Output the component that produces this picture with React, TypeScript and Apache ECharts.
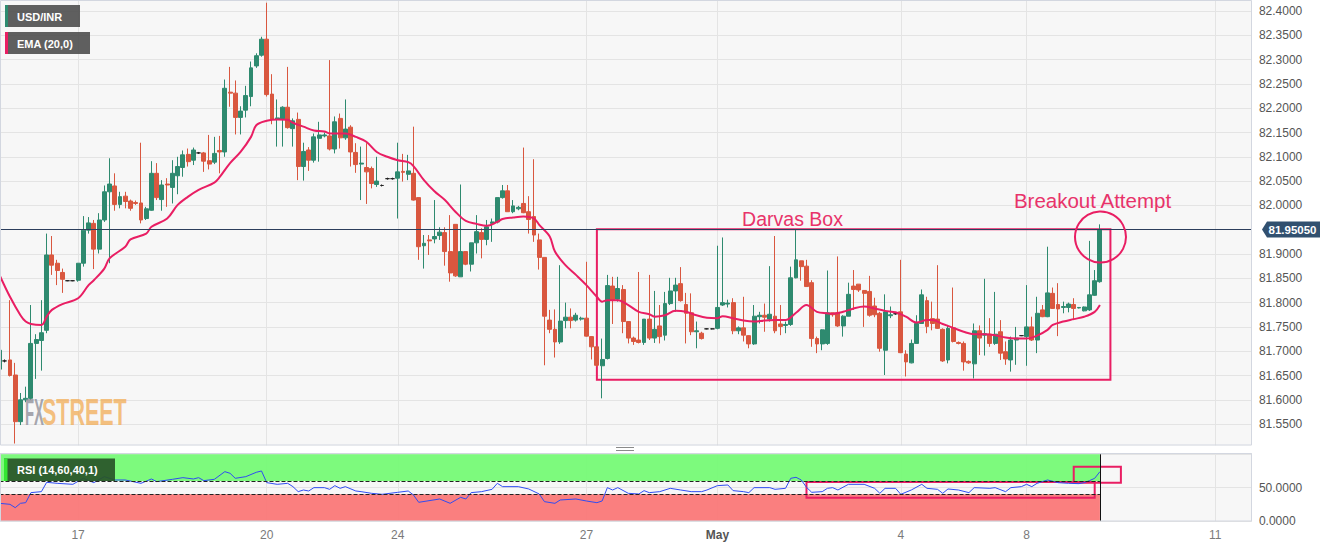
import React, { useEffect, useRef } from "react";
import * as echarts from "echarts";

// ---- data: [open, close, low, high] per 2-hour candle ----
const candlesA = [
  [81.663, 81.702, 81.650, 81.710], [81.680, 81.680, 81.677, 81.683], [81.682, 81.650, 81.648, 81.805],
  [81.651, 81.555, 81.510, 81.676], [81.555, 81.600, 81.548, 81.614], [81.600, 81.603, 81.595, 81.627],
  [81.603, 81.716, 81.600, 81.795], [81.716, 81.724, 81.643, 81.735], [81.722, 81.738, 81.660, 81.805],
  [81.743, 81.898, 81.737, 81.942], [81.898, 81.877, 81.857, 81.937], [81.881, 81.866, 81.836, 81.888],
  [81.862, 81.848, 81.820, 81.870], [81.845, 81.845, 81.844, 81.846], [81.845, 81.845, 81.844, 81.846],
  [81.846, 81.881, 81.843, 81.881], [81.881, 81.949, 81.874, 81.978], [81.949, 81.964, 81.942, 81.976],
  [81.963, 81.910, 81.869, 81.970], [81.910, 81.970, 81.901, 81.984], [81.970, 82.028, 81.966, 82.041],
  [82.028, 82.044, 81.881, 82.097], [82.040, 82.002, 81.989, 82.066], [82.002, 82.018, 81.994, 82.028],
  [82.019, 82.008, 81.994, 82.028], [82.009, 81.994, 81.989, 82.012], [82.006, 82.004, 82.001, 82.010],
  [82.005, 81.970, 81.963, 82.129], [81.973, 81.993, 81.970, 81.997], [81.990, 82.066, 81.989, 82.091],
  [82.066, 82.016, 82.011, 82.087], [82.012, 82.042, 81.989, 82.052], [82.044, 82.042, 81.997, 82.056],
  [82.037, 82.066, 82.004, 82.093], [82.061, 82.080, 82.023, 82.100], [82.078, 82.104, 82.059, 82.113],
  [82.105, 82.090, 82.080, 82.117], [82.093, 82.114, 82.083, 82.119], [82.108, 82.108, 82.106, 82.110],
  [82.108, 82.091, 82.069, 82.110], [82.092, 82.085, 82.074, 82.145], [82.089, 82.107, 82.085, 82.141],
];
const candlesB = [
  [82.113, 82.110, 82.066, 82.143], [82.110, 82.241, 82.100, 82.259], [82.233, 82.231, 82.203, 82.285],
  [82.231, 82.181, 82.146, 82.257], [82.181, 82.194, 82.146, 82.204], [82.196, 82.226, 82.181, 82.246],
  [82.224, 82.283, 82.204, 82.296], [82.287, 82.308, 82.283, 82.313], [82.309, 82.342, 82.306, 82.347],
  [82.342, 82.228, 82.224, 82.417], [82.229, 82.177, 82.167, 82.270], [82.177, 82.180, 82.121, 82.218],
  [82.178, 82.202, 82.121, 82.204], [82.202, 82.160, 82.158, 82.285], [82.158, 82.174, 82.121, 82.179],
  [82.177, 82.080, 82.052, 82.191], [82.080, 82.111, 82.051, 82.129], [82.114, 82.093, 82.071, 82.120],
  [82.093, 82.141, 82.088, 82.148], [82.138, 82.145, 82.090, 82.172], [82.143, 82.145, 82.140, 82.150],
  [82.143, 82.116, 82.113, 82.299], [82.116, 82.172, 82.107, 82.183], [82.179, 82.139, 82.117, 82.189],
  [82.139, 82.157, 82.135, 82.218], [82.161, 82.110, 82.080, 82.165], [82.109, 82.084, 82.067, 82.128],
  [82.085, 82.087, 82.011, 82.121], [82.078, 82.069, 82.003, 82.128], [82.076, 82.045, 82.035, 82.080],
  [82.043, 82.050, 82.038, 82.100], [82.041, 82.041, 82.039, 82.043], [82.055, 82.055, 82.053, 82.057],
  [82.055, 82.055, 82.053, 82.057], [82.056, 82.069, 81.973, 82.129], [82.070, 82.068, 82.049, 82.106],
  [82.064, 82.071, 82.052, 82.104], [82.066, 82.011, 82.010, 82.162], [82.016, 81.915, 81.888, 82.016],
  [81.917, 81.922, 81.870, 81.939], [81.929, 81.927, 81.898, 81.939], [81.931, 81.936, 81.922, 82.011],
];
const candlesC = [
  [81.938, 81.945, 81.929, 81.955], [81.944, 81.905, 81.876, 81.955], [81.905, 81.861, 81.843, 81.980],
  [81.961, 81.855, 81.853, 81.961], [81.853, 81.905, 81.853, 82.043], [81.905, 81.879, 81.877, 81.905],
  [81.879, 81.923, 81.864, 81.923], [81.923, 81.946, 81.901, 81.980], [81.944, 81.930, 81.891, 81.953],
  [81.930, 81.956, 81.918, 81.970], [81.963, 81.966, 81.925, 81.973], [81.966, 82.016, 81.963, 82.016],
  [82.016, 82.030, 82.014, 82.042], [82.030, 81.987, 81.987, 82.042], [81.987, 81.999, 81.984, 82.011],
  [81.993, 81.996, 81.990, 81.999], [82.004, 81.985, 81.984, 82.119], [81.987, 81.971, 81.942, 82.019],
  [81.977, 81.939, 81.925, 82.095], [81.929, 81.893, 81.868, 81.942], [81.893, 81.772, 81.671, 81.893],
  [81.764, 81.745, 81.737, 81.785], [81.745, 81.719, 81.687, 81.786], [81.719, 81.762, 81.715, 81.877],
  [81.763, 81.770, 81.747, 81.800], [81.770, 81.763, 81.747, 81.788], [81.764, 81.774, 81.761, 81.779],
  [81.766, 81.768, 81.763, 81.771], [81.768, 81.731, 81.730, 81.884], [81.730, 81.709, 81.683, 81.731],
  [81.709, 81.671, 81.668, 81.710], [81.670, 81.683, 81.603, 81.726], [81.685, 81.835, 81.683, 81.857],
  [81.834, 81.805, 81.756, 81.853], [81.807, 81.829, 81.802, 81.853], [81.827, 81.761, 81.737, 81.836],
  [81.761, 81.727, 81.716, 81.761], [81.727, 81.720, 81.713, 81.730], [81.723, 81.718, 81.716, 81.863],
  [81.718, 81.766, 81.713, 81.766], [81.766, 81.727, 81.723, 81.857], [81.727, 81.745, 81.717, 81.824],
];
const candlesD = [
  [81.752, 81.730, 81.716, 81.795], [81.733, 81.798, 81.722, 81.822], [81.798, 81.824, 81.795, 81.851],
  [81.824, 81.836, 81.781, 81.851], [81.839, 81.804, 81.802, 81.873], [81.796, 81.778, 81.716, 81.820],
  [81.779, 81.740, 81.733, 81.819], [81.740, 81.742, 81.706, 81.761], [81.737, 81.726, 81.724, 81.740],
  [81.746, 81.746, 81.745, 81.747], [81.746, 81.746, 81.745, 81.747], [81.747, 81.790, 81.745, 81.917],
  [81.795, 81.800, 81.793, 81.934], [81.797, 81.799, 81.790, 81.806], [81.800, 81.742, 81.735, 81.809],
  [81.742, 81.748, 81.735, 81.751], [81.748, 81.733, 81.720, 81.812], [81.732, 81.715, 81.706, 81.733],
  [81.715, 81.772, 81.713, 81.795], [81.771, 81.774, 81.757, 81.781], [81.774, 81.770, 81.740, 81.798],
  [81.766, 81.776, 81.761, 81.875], [81.772, 81.742, 81.737, 81.937], [81.756, 81.751, 81.733, 81.795],
  [81.753, 81.755, 81.737, 81.761], [81.755, 81.851, 81.752, 81.874], [81.851, 81.888, 81.850, 81.951],
  [81.886, 81.874, 81.845, 81.886], [81.875, 81.833, 81.833, 81.888], [81.841, 81.726, 81.709, 81.846],
  [81.726, 81.715, 81.696, 81.730], [81.715, 81.744, 81.702, 81.745], [81.716, 81.779, 81.713, 81.866],
  [81.779, 81.775, 81.771, 81.779], [81.779, 81.752, 81.750, 81.895], [81.752, 81.772, 81.730, 81.774],
  [81.772, 81.817, 81.772, 81.841], [81.834, 81.827, 81.785, 81.867], [81.838, 81.826, 81.822, 81.838],
  [81.825, 81.819, 81.750, 81.825], [81.823, 81.774, 81.771, 81.855], [81.793, 81.775, 81.770, 81.810],
];
const candlesE = [
  [81.778, 81.706, 81.699, 81.781], [81.702, 81.781, 81.651, 81.817], [81.773, 81.775, 81.768, 81.792],
  [81.777, 81.777, 81.775, 81.779], [81.781, 81.697, 81.696, 81.888], [81.694, 81.678, 81.648, 81.702],
  [81.676, 81.716, 81.675, 81.724], [81.716, 81.757, 81.716, 81.774], [81.757, 81.816, 81.756, 81.827],
  [81.804, 81.751, 81.737, 81.812], [81.767, 81.757, 81.743, 81.802], [81.766, 81.747, 81.746, 81.877],
  [81.745, 81.680, 81.678, 81.747], [81.682, 81.747, 81.675, 81.754], [81.748, 81.720, 81.718, 81.831],
  [81.718, 81.716, 81.714, 81.720], [81.716, 81.678, 81.660, 81.720], [81.679, 81.676, 81.674, 81.681],
  [81.674, 81.742, 81.644, 81.757], [81.742, 81.727, 81.692, 81.753], [81.733, 81.736, 81.691, 81.849],
  [81.735, 81.716, 81.709, 81.768], [81.716, 81.735, 81.713, 81.822], [81.740, 81.696, 81.682, 81.764],
  [81.699, 81.684, 81.672, 81.720], [81.682, 81.723, 81.658, 81.730], [81.723, 81.727, 81.672, 81.750],
  [81.732, 81.732, 81.731, 81.733], [81.730, 81.750, 81.670, 81.836], [81.750, 81.723, 81.721, 81.771],
  [81.723, 81.778, 81.696, 81.812], [81.785, 81.771, 81.770, 81.795], [81.771, 81.820, 81.770, 81.915],
  [81.819, 81.788, 81.787, 81.831], [81.796, 81.787, 81.731, 81.840], [81.790, 81.792, 81.778, 81.802],
  [81.790, 81.797, 81.780, 81.800], [81.796, 81.788, 81.764, 81.809], [81.789, 81.790, 81.788, 81.791],
  [81.783, 81.791, 81.782, 81.792], [81.785, 81.816, 81.783, 81.927], [81.815, 81.845, 81.814, 81.867],
  [81.843, 81.9505, 81.841, 81.961],
];

// EMA(20): [candle index, value]
const emaPoints = [
  [0, 81.857], [2, 81.812], [4, 81.774], [5, 81.761], [6, 81.756], [8, 81.754], [9, 81.771], [10, 81.785],
  [12, 81.797], [15, 81.809], [17, 81.836], [18, 81.846], [20, 81.87], [21, 81.891], [24, 81.915], [25, 81.93],
  [28, 81.942], [29, 81.956], [32, 81.973], [34, 82.001], [36, 82.018], [38, 82.032], [41, 82.047], [42, 82.058],
  [44, 82.087], [46, 82.11], [48, 82.141], [49, 82.165], [51, 82.174], [53, 82.177], [55, 82.176], [56, 82.17],
  [58, 82.162], [60, 82.154], [62, 82.152], [63, 82.148], [66, 82.148], [68, 82.141], [70, 82.131], [72, 82.11],
  [74, 82.1], [76, 82.093], [78, 82.089], [79, 82.081], [81, 82.052], [83, 82.029], [85, 82.011], [87, 81.987],
  [89, 81.968], [91, 81.962], [93, 81.958], [95, 81.966], [96, 81.972], [98, 81.975], [100, 81.977], [102, 81.973],
  [103, 81.96], [105, 81.936], [106, 81.905], [108, 81.877], [110, 81.857], [112, 81.836], [114, 81.812],
  [115, 81.802], [116, 81.805], [118, 81.805], [120, 81.795], [122, 81.781], [124, 81.776], [125, 81.771],
  [127, 81.774], [129, 81.783], [131, 81.781], [133, 81.774], [135, 81.769], [137, 81.768], [138, 81.772],
  [140, 81.768], [142, 81.763], [144, 81.761], [146, 81.763], [148, 81.764], [150, 81.764], [152, 81.779],
  [154, 81.795], [156, 81.781], [158, 81.778], [159, 81.777], [161, 81.781], [163, 81.788], [165, 81.792],
  [167, 81.788], [169, 81.783], [171, 81.78], [173, 81.771], [175, 81.759], [177, 81.764], [178, 81.764],
  [180, 81.756], [182, 81.748], [184, 81.74], [186, 81.735], [188, 81.735], [190, 81.733], [192, 81.728],
  [194, 81.726], [196, 81.726], [198, 81.732], [200, 81.744], [201, 81.754], [203, 81.761], [205, 81.766],
  [207, 81.771], [209, 81.781], [210, 81.795],
];

// RSI(14): [candle index, value]
const rsiPoints = [
  [0, 26.5], [2, 25], [3, 20], [4, 26.5], [5, 27.5], [6, 42.5], [8, 44], [9, 58], [11, 56.5], [14, 55], [16, 64],
  [18, 57.5], [20, 66.5], [22, 61.5], [24, 61.5], [27, 56.5], [29, 63], [30, 59], [33, 62.5], [35, 65], [37, 63],
  [38, 65], [39, 60.5], [41, 62.5], [43, 74], [44, 71.5], [45, 64], [47, 66.5], [49, 73], [50, 75], [51, 57.5],
  [53, 55], [55, 56.5], [56, 51.5], [57, 44], [58, 46.5], [59, 45], [60, 50], [62, 50], [63, 47.5], [64, 53],
  [65, 49], [66, 51.5], [68, 45], [69, 44], [71, 41.5], [73, 40], [76, 43], [78, 45], [79, 39], [80, 28],
  [84, 33], [86, 26.5], [88, 35.5], [89, 33], [90, 42.5], [92, 44], [94, 47.5], [95, 56.5], [96, 51.5],
  [99, 51.5], [101, 48], [103, 40.5], [104, 29], [106, 26.5], [107, 31.5], [110, 33], [112, 30], [114, 27.5],
  [115, 30], [116, 50], [117, 46.5], [118, 50], [120, 41.5], [122, 40.5], [123, 45.5], [124, 42.5], [126, 44],
  [128, 49], [130, 46.5], [132, 44], [134, 44], [135, 46.5], [137, 53], [139, 54], [140, 45.5], [142, 44],
  [143, 42.5], [144, 50], [147, 50], [148, 47.5], [150, 49], [151, 64], [152, 65.5], [153, 61.5], [154, 50.5],
  [155, 43], [157, 44], [158, 49], [159, 50], [160, 46.5], [162, 55], [165, 55], [167, 49], [168, 41.5],
  [169, 49], [171, 49], [172, 40], [174, 46.5], [176, 55], [177, 49], [179, 47.5], [180, 41.5], [181, 48],
  [183, 46.5], [185, 42.5], [186, 50], [189, 49], [190, 50], [192, 44], [193, 50], [195, 51.5], [196, 55],
  [197, 51.5], [198, 56.5], [200, 61.5], [202, 57.5], [204, 56.5], [206, 56], [207, 57.5], [208, 60.5],
  [209, 64], [210, 74],
];

const tickIndex = [15, 51, 76, 112, 137, 172, 196, 232];
const tickLabels = ["17", "20", "24", "27", "May", "4", "8", "11"];
const slotCount = 240;
const lastPrice = 81.9505;
const darvasBox = { from: 114, to: 212, top: 81.951, bottom: 81.641 };
const rsiBoxLow = { from: 154, to: 209, top: 58.5, bottom: 35 };
const rsiBoxHigh = { from: 205, to: 214, top: 81.4, bottom: 57.4 };
const rsiUpper = 60;
const rsiLower = 40;

const FONT = "'Liberation Sans', Arial, Helvetica, sans-serif";
const PINK = "#e91e63";

export default function App() {
  const ref = useRef<HTMLDivElement>(null);

  useEffect(() => {
    if (!ref.current) return;
    const chart = echarts.init(ref.current, undefined, { renderer: "svg" });

    const candles = [...candlesA, ...candlesB, ...candlesC, ...candlesD, ...candlesE];
    const n = candles.length;
    const cats = Array.from({ length: slotCount }, (_, i) => String(i));
    const emaData: (number | null)[] = new Array(n).fill(null);
    emaPoints.forEach(([k, v]) => (emaData[k] = v));
    const rsiData: (number | null)[] = new Array(n).fill(null);
    rsiPoints.forEach(([k, v]) => (rsiData[k] = v));
    const lastIdx = String(n - 1);

    const isTick = (i: number) => tickIndex.includes(i);
    const gridLine = { color: "#e4e4e4", width: 1 };
    const boxStyle = { color: "rgba(0,0,0,0)", borderColor: PINK, borderWidth: 2 };

    const baseGraphics: any[] = [
      { id: "gap", type: "rect", z: 100, silent: true, shape: { x: 0, y: 445.5, width: 1256, height: 7.6 }, style: { fill: "#ffffff" } },
      { id: "frame1", type: "rect", z: 101, silent: true, shape: { x: 0.5, y: 0.5, width: 1251, height: 444.5 }, style: { fill: "none", stroke: "#d3d7e0", lineWidth: 1 } },
      { id: "frame2", type: "rect", z: 101, silent: true, shape: { x: 0.5, y: 453.5, width: 1251, height: 67.5 }, style: { fill: "none", stroke: "#d3d7e0", lineWidth: 1 } },
      { id: "h1", type: "line", z: 101, silent: true, shape: { x1: 616, y1: 447.5, x2: 634, y2: 447.5 }, style: { stroke: "#8a8a8a", lineWidth: 1 } },
      { id: "h2", type: "line", z: 101, silent: true, shape: { x1: 616, y1: 450.5, x2: 634, y2: 450.5 }, style: { stroke: "#8a8a8a", lineWidth: 1 } },
      // legend boxes
      { id: "lg1", type: "rect", z: 102, shape: { x: 5, y: 5, width: 75, height: 22 }, style: { fill: "rgba(78,78,78,0.9)" } },
      { id: "lg1s", type: "rect", z: 103, shape: { x: 5, y: 5, width: 3, height: 22 }, style: { fill: "#2e8b70" } },
      { id: "lg1t", type: "text", z: 103, x: 17, y: 16.5, style: { text: "USD/INR", fill: "#ffffff", fontSize: 11, fontWeight: "bold", fontFamily: FONT, verticalAlign: "middle" } },
      { id: "lg2", type: "rect", z: 102, shape: { x: 5, y: 32, width: 85, height: 22 }, style: { fill: "rgba(78,78,78,0.9)" } },
      { id: "lg2s", type: "rect", z: 103, shape: { x: 5, y: 32, width: 3, height: 22 }, style: { fill: PINK } },
      { id: "lg2t", type: "text", z: 103, x: 17, y: 43.5, style: { text: "EMA (20,0)", fill: "#ffffff", fontSize: 11, fontWeight: "bold", fontFamily: FONT, verticalAlign: "middle" } },
      { id: "lg3", type: "rect", z: 102, shape: { x: 4, y: 458.5, width: 111, height: 22.5 }, style: { fill: "rgba(40,84,40,0.92)" } },
      { id: "lg3s", type: "rect", z: 103, shape: { x: 4, y: 458.5, width: 3.5, height: 22.5 }, style: { fill: "#33e633" } },
      { id: "lg3t", type: "text", z: 103, x: 17, y: 470, style: { text: "RSI (14,60,40,1)", fill: "#ffffff", fontSize: 11, fontWeight: "bold", fontFamily: FONT, verticalAlign: "middle" } },
      // watermark
      { id: "wm1", type: "text", z: 4, silent: true, x: 25, y: 412, scaleX: 0.4, style: { text: "FX", fill: "rgba(140,140,150,0.75)", fontSize: 37, fontWeight: "bold", fontFamily: FONT, verticalAlign: "middle" } },
      { id: "wm2", type: "text", z: 4, silent: true, x: 42, y: 412, scaleX: 0.58, style: { text: "STREET", fill: "rgba(242,170,80,0.72)", fontSize: 37, fontWeight: "bold", fontFamily: FONT, verticalAlign: "middle" } },
      // annotations
      { id: "t1", type: "text", z: 104, x: 792.5, y: 219, style: { text: "Darvas Box", fill: "#e8336a", fontSize: 19.5, fontFamily: FONT, align: "center", verticalAlign: "middle" } },
      { id: "t2", type: "text", z: 104, x: 1092.5, y: 200, style: { text: "Breakout Attempt", fill: "#e8336a", fontSize: 20.5, fontFamily: FONT, align: "center", verticalAlign: "middle" } },
      { id: "c1", type: "circle", z: 104, shape: { cx: 1100.5, cy: 237, r: 25.5 }, style: { fill: "none", stroke: PINK, lineWidth: 2 } },
    ];

    const option: any = {
      animation: false,
      backgroundColor: "#ffffff",
      textStyle: { fontFamily: FONT },
      grid: [
        { left: -0.5, width: 1252.4, top: -13.3, height: 461.7, show: true, backgroundColor: "#f7f7f7", borderWidth: 0, containLabel: false, outerBoundsMode: "none" },
        { left: -0.5, width: 1252.4, top: 453.3, height: 67.7, show: true, backgroundColor: "#f7f7f7", borderWidth: 0, containLabel: false, outerBoundsMode: "none" },
      ],
      xAxis: [
        {
          type: "category", gridIndex: 0, data: cats, boundaryGap: false,
          axisLine: { show: false }, axisTick: { show: false }, axisLabel: { show: false },
          splitLine: { show: true, interval: (i: number) => isTick(i), lineStyle: gridLine },
        },
        {
          type: "category", gridIndex: 1, data: cats, boundaryGap: false,
          axisLine: { show: false }, axisTick: { show: false },
          axisLabel: {
            show: true, interval: (i: number) => isTick(i), margin: 8, color: "#7a7a7a", fontSize: 12,
            formatter: (v: string) => {
              const p = tickIndex.indexOf(Number(v));
              if (p < 0) return "";
              return tickLabels[p] === "May" ? "{b|May}" : tickLabels[p];
            },
            rich: { b: { fontWeight: "bold", color: "#555", fontSize: 12 } },
          },
          splitLine: { show: true, interval: (i: number) => isTick(i), lineStyle: gridLine },
        },
      ],
      yAxis: [
        {
          type: "value", gridIndex: 0, position: "right", min: 81.5, max: 82.45, interval: 0.05,
          axisLine: { show: false }, axisTick: { show: false },
          splitLine: { show: true, lineStyle: gridLine },
          axisLabel: {
            margin: 7, color: "#555", fontSize: 12,
            formatter: (v: number) =>
              v < 81.52 || v > 82.42 || Math.abs(v - lastPrice) < 0.01 ? "" : v.toFixed(4),
          },
        },
        {
          type: "value", gridIndex: 1, position: "right", min: 0, max: 101.5, interval: 50,
          axisLine: { show: false }, axisTick: { show: false },
          splitLine: { show: true, lineStyle: gridLine },
          axisLabel: {
            margin: 7, color: "#555", fontSize: 12,
            formatter: (v: number) => (v > 60 ? "" : v.toFixed(4)),
          },
        },
      ],
      series: [
        {
          type: "candlestick", xAxisIndex: 0, yAxisIndex: 0, data: candles, barWidth: 4.4, z: 2,
          itemStyle: {
            color: "#2e8a6f", color0: "#d9573f", borderColor: "#2e8a6f", borderColor0: "#d9573f",
            borderColorDoji: "#222222", borderWidth: 1,
          },
          markLine: {
            silent: true, symbol: ["none", "none"], label: { show: false },
            lineStyle: { color: "#2c3e5c", width: 1, type: "solid" },
            data: [{ yAxis: lastPrice }],
          },
          markArea: {
            silent: true,
            data: [[
              { xAxis: String(darvasBox.from), yAxis: darvasBox.top, itemStyle: boxStyle },
              { xAxis: String(darvasBox.to), yAxis: darvasBox.bottom },
            ]],
          },
        },
        {
          type: "line", xAxisIndex: 0, yAxisIndex: 0, data: emaData, connectNulls: true, smooth: 0.35,
          symbol: "none", z: 3, lineStyle: { color: PINK, width: 2 },
        },
        {
          type: "line", xAxisIndex: 1, yAxisIndex: 1, data: rsiData, connectNulls: true,
          symbol: "none", z: 3, lineStyle: { color: "#2f4cf2", width: 1 },
          markArea: {
            silent: true,
            data: [
              [{ xAxis: "0", yAxis: rsiUpper, itemStyle: { color: "rgba(118,250,118,0.95)" } }, { xAxis: lastIdx, yAxis: 100 }],
              [{ xAxis: "0", yAxis: 0, itemStyle: { color: "rgba(250,120,120,0.95)" } }, { xAxis: lastIdx, yAxis: rsiLower }],
              [{ xAxis: String(rsiBoxLow.from), yAxis: rsiBoxLow.bottom, itemStyle: boxStyle }, { xAxis: String(rsiBoxLow.to), yAxis: rsiBoxLow.top }],
              [{ xAxis: String(rsiBoxHigh.from), yAxis: rsiBoxHigh.bottom, itemStyle: boxStyle }, { xAxis: String(rsiBoxHigh.to), yAxis: rsiBoxHigh.top }],
            ],
          },
          markLine: {
            silent: true, symbol: ["none", "none"], label: { show: false },
            lineStyle: { color: "#222", width: 1, type: "dashed" },
            data: [
              [{ coord: ["0", rsiUpper] }, { coord: [lastIdx, rsiUpper] }],
              [{ coord: ["0", rsiLower] }, { coord: [lastIdx, rsiLower] }],
              [{ coord: [lastIdx, 0], lineStyle: { type: "solid", color: "#111" } }, { coord: [lastIdx, 100] }],
            ],
          },
        },
      ],
      graphic: { elements: baseGraphics },
    };

    chart.setOption(option);

    const ty = chart.convertToPixel({ yAxisIndex: 0 }, lastPrice) as number;
    chart.setOption({
      graphic: {
        elements: [
          ...baseGraphics,
          {
            id: "tag", type: "polygon", z: 105,
            shape: { points: [[1262, ty], [1267, ty - 8], [1320, ty - 8], [1320, ty + 8], [1267, ty + 8]] },
            style: { fill: "#31506f" },
          },
          {
            id: "tagt", type: "text", z: 106, x: 1292.5, y: ty + 0.5,
            style: { text: lastPrice.toFixed(5), fill: "#ffffff", fontSize: 11.5, fontWeight: "bold", fontFamily: FONT, align: "center", verticalAlign: "middle" },
          },
        ],
      },
    });

    return () => chart.dispose();
  }, []);

  return (
    <div
      ref={ref}
      style={{ position: "fixed", left: 0, top: 0, width: 1328, height: 548, background: "#ffffff" }}
    />
  );
}
